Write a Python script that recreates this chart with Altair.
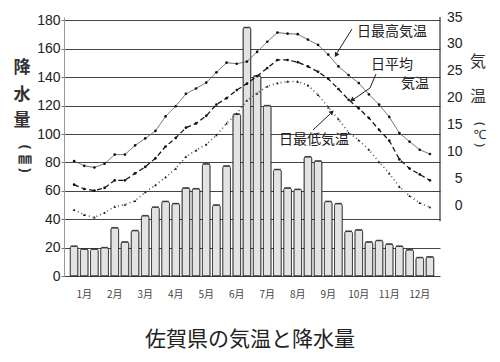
import altair as alt
import pandas as pd

# ---- data (dekadal values) ----
rain = [21, 19, 19, 20, 34, 24, 32, 42.5, 48.5, 52.5, 51, 62,
        61.5, 79, 50, 77.5, 114, 175, 141, 120, 75, 62, 61, 84,
        81, 52.5, 51, 31.5, 32.5, 24, 25, 22.5, 21, 18.5, 13, 13.5]
tmax = [8.2, 7.3, 7.0, 7.7, 9.4, 9.4, 11.1, 12.4, 13.8, 16.5, 18.4, 20.7,
        21.7, 22.8, 24.7, 26.5, 26.3, 26.7, 28.5, 30.4, 32.1, 31.9, 31.8, 30.8,
        29.8, 28.0, 25.8, 24.2, 22.7, 20.6, 18.7, 16.4, 13.4, 11.8, 10.3, 9.5]
tmean = [3.8, 3.0, 2.7, 3.2, 4.6, 4.6, 5.9, 7.1, 8.7, 10.9, 12.5, 14.4,
         15.2, 16.6, 18.7, 19.9, 21.4, 22.6, 24.0, 25.5, 27.0, 27.0, 26.6, 25.8,
         24.8, 23.5, 21.6, 19.6, 18.0, 16.2, 14.0, 12.0, 8.5, 6.8, 5.7, 4.6]
tmin = [-0.9, -1.8, -2.3, -1.4, -0.3, 0.1, 0.8, 2.4, 3.7, 5.2, 6.8, 9.0,
        10.2, 11.3, 13.0, 15.2, 17.0, 19.5, 20.8, 22.1, 22.7, 23.0, 23.0, 22.3,
        20.5, 18.2, 16.0, 13.5, 12.1, 10.3, 8.0, 5.9, 3.4, 1.7, 0.4, -0.4]
months = ["1月", "2月", "3月", "4月", "5月", "6月",
          "7月", "8月", "9月", "10月", "11月", "12月"]
series = ["max", "mean", "min"]
rain_ticks = [0, 20, 40, 60, 80, 100, 120, 140, 160, 180]
temp_ticks = [0, 5, 10, 15, 20, 25, 30, 35]

idx = list(range(1, 37))
W, H = 376, 259
JP = "Noto Sans CJK JP"
NUM = "Liberation Sans"

rain_df = pd.DataFrame({"idx": idx, "rain": rain})
temp_df = pd.DataFrame({
    "idx": idx * 3,
    "series": [s for s in series for _ in idx],
    "temp": tmax + tmean + tmin,
})
month_df = pd.DataFrame({"month": months, "pos": [3 * i + 2 for i in range(12)]})
raxis_df = pd.DataFrame({"top": [35], "bot": [-3]})
one = alt.Data(values=[{}])

xscale = alt.Scale(domain=[0.5, 36.5], nice=False, zero=False)
rscale = alt.Scale(domain=[0, 182.4], nice=False, zero=False)
tscale = alt.Scale(domain=[-13.2, 35], nice=False, zero=False)
X = alt.X("idx:Q", scale=xscale, axis=None)

# ---- precipitation bars ----
bars = alt.Chart(rain_df).mark_bar(
    width=7.8, fill="#e3e3e3", stroke="#222", strokeWidth=0.8,
    cornerRadiusTopLeft=2, cornerRadiusTopRight=2,
).encode(
    x=X,
    y=alt.Y("rain:Q", scale=rscale, axis=alt.Axis(
        orient="left", values=rain_ticks, grid=True, gridColor="#444",
        gridWidth=1, gridOpacity=1, domain=True, domainColor="#999",
        ticks=True, tickSize=3, tickColor="#777", labelFontSize=14,
        labelFont=NUM, labelColor="#222", labelPadding=1, title=None)),
)
caps = alt.Chart(rain_df).mark_tick(
    orient="horizontal", size=7, thickness=1.6, color="#333"
).encode(x=X, y=alt.Y("rain:Q", scale=rscale, axis=None))

# ---- temperature lines ----
lines = alt.Chart(temp_df).mark_line().encode(
    x=X,
    y=alt.Y("temp:Q", scale=tscale, axis=alt.Axis(
        orient="right", values=temp_ticks, grid=False, domain=False,
        ticks=False, labelAlign="right", labelPadding=22, labelFontSize=14,
        labelFont=NUM, labelColor="#222", title=None)),
    detail="series:N",
    color=alt.Color("series:N", scale=alt.Scale(domain=series, range=["#555", "#111", "#555"]), legend=None),
    strokeDash=alt.StrokeDash("series:N", scale=alt.Scale(domain=series, range=[[1, 0], [5, 3], [1, 3]]), legend=None),
    strokeWidth=alt.StrokeWidth("series:N", scale=alt.Scale(domain=series, range=[0.9, 1.6, 1.3]), legend=None),
)
points = alt.Chart(temp_df).mark_point(filled=True, color="#111", opacity=1).encode(
    x=X,
    y=alt.Y("temp:Q", scale=tscale, axis=None),
    shape=alt.Shape("series:N", scale=alt.Scale(domain=series, range=["circle", "circle", "triangle-up"]), legend=None),
    size=alt.Size("series:N", scale=alt.Scale(domain=series, range=[7, 7, 10]), legend=None),
)
raxis = alt.Chart(raxis_df).mark_rule(color="#333", strokeWidth=1.2).encode(
    x=alt.value(W),
    y=alt.Y("top:Q", scale=tscale, axis=None),
    y2="bot:Q",
)

# ---- month labels ----
month_text = alt.Chart(month_df).mark_text(
    font=JP, fontSize=10, color="#444", baseline="middle"
).encode(x=alt.X("pos:Q", scale=xscale, axis=None), y=alt.value(278), text="month:N")


def label(text, x, y, size=14, weight="normal", color="#222", font=JP, angle=0):
    return alt.Chart(one).mark_text(
        text=text, font=font, fontSize=size, fontWeight=weight, color=color,
        align="center", baseline="middle", angle=angle,
    ).encode(x=alt.value(x), y=alt.value(y))


def seg(x1, y1, x2, y2):
    return alt.Chart(one).mark_rule(color="#222", strokeWidth=1).encode(
        x=alt.value(x1), y=alt.value(y1), x2=alt.value(x2), y2=alt.value(y2))


def head(x, y, angle):
    return alt.Chart(one).mark_point(
        shape="triangle-up", filled=True, color="#222", size=28, angle=angle, opacity=1
    ).encode(x=alt.value(x), y=alt.value(y))


annotations = [
    label("日最高気温", 328, 15),
    label("日平均", 328, 48),
    label("気温", 351, 67),
    label("日最低気温", 250, 123),
    seg(288, 12, 273, 36), head(272, 38, 212),
    seg(312, 57, 306, 71), seg(306, 71, 290, 82), head(288, 83, 236),
    seg(249, 113, 266, 97), head(268, 95, 46),
    # left axis title (vertical)
    label("降", -42, 51, 17, "bold", "#333"),
    label("水", -42, 78, 17, "bold", "#333"),
    label("量", -42, 104, 17, "bold", "#333"),
    label("(", -39, 130, 14, "bold", "#333", "Noto Sans", 90),
    label("㎜", -39, 142, 14, "bold", "#333"),
    label(")", -39, 153, 14, "bold", "#333", "Noto Sans", 90),
    # right axis title (vertical)
    label("気", 414, 45, 16, "normal", "#333"),
    label("温", 414, 80, 16, "normal", "#333"),
    label("(", 416, 107, 13, "normal", "#333", "Noto Sans", 90),
    label("℃", 416, 118, 13, "normal", "#333", "Noto Sans"),
    label(")", 416, 128, 13, "normal", "#333", "Noto Sans", 90),
    # chart title
    label("佐賀県の気温と降水量", 186, 323, 21, "normal", "#222"),
]

chart = alt.layer(bars, caps, lines, points, raxis, month_text, *annotations).resolve_scale(
    y="independent"
).properties(
    width=W, height=H,
    padding={"left": 56, "top": 9, "right": 50, "bottom": 78},
    autosize=alt.AutoSizeParams(type="none"),
).configure_view(stroke=None)

chart.save("out.html", embed_options={"renderer": "svg", "actions": False})
